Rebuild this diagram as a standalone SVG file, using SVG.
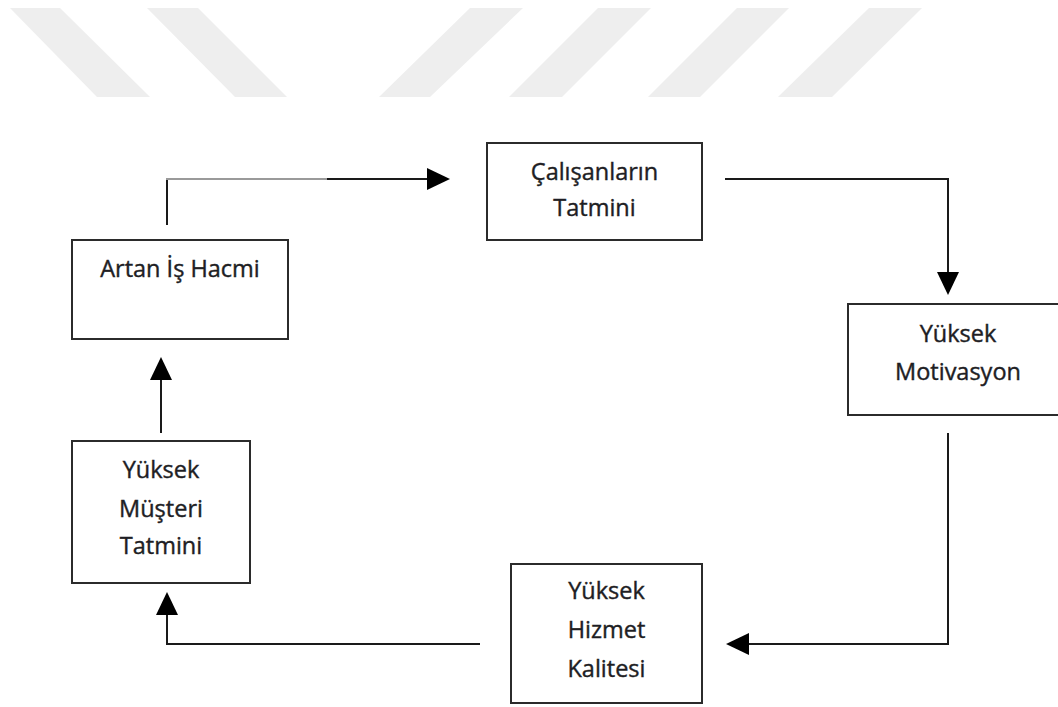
<svg xmlns="http://www.w3.org/2000/svg" width="1058" height="707" viewBox="0 0 1058 707">
  <style>
    .wm { fill: #eeeeee; }
    .box { fill: #ffffff; stroke: #2b2b2b; stroke-width: 2; }
    .lbl { font-family: "Open Sans", "Liberation Sans", sans-serif; font-size: 23.5px; fill: #1e1e24; stroke: #1e1e24; stroke-width: 0.4; text-anchor: middle; }
    .edge { fill: none; stroke: #1a1a1a; stroke-width: 2; }
    .edge-light { fill: none; stroke: #9a9a9a; stroke-width: 2; }
  </style>
  <defs>
    <marker id="arrow" markerUnits="userSpaceOnUse" markerWidth="23" markerHeight="22" refX="0" refY="11" orient="auto">
      <path d="M0,0 L23,11 L0,22 z" fill="#000000"/>
    </marker>
  </defs>
  <rect x="0" y="0" width="1058" height="707" fill="#ffffff"/>
  <g id="watermark">
    <polygon class="wm" points="10,8 60,8 150,97 97,97"/>
    <polygon class="wm" points="147,8 198,8 287,97 235,97"/>
    <polygon class="wm" points="470,8 523,8 430,97 379,97"/>
    <polygon class="wm" points="598,8 651,8 562,97 509,97"/>
    <polygon class="wm" points="737,8 789,8 700,97 648,97"/>
    <polygon class="wm" points="869,8 922,8 832,97 778,97"/>
  </g>
  <g id="connectors">
    <path class="edge" d="M167,225 V179"/>
    <path class="edge-light" d="M166,179 H327"/>
    <path class="edge" d="M327,179 H427" marker-end="url(#arrow)"/>
    <path class="edge" d="M725,179 H948 V272" marker-end="url(#arrow)"/>
    <path class="edge" d="M948,433 V644 H749" marker-end="url(#arrow)"/>
    <path class="edge" d="M480,644 H167 V615" marker-end="url(#arrow)"/>
    <path class="edge" d="M161,433 V380" marker-end="url(#arrow)"/>
  </g>
  <g id="node-artan">
    <rect class="box" x="72" y="240" width="216" height="99"/>
    <text class="lbl" x="180" y="277">Artan İş Hacmi</text>
  </g>
  <g id="node-calisan">
    <rect class="box" x="487" y="143" width="215" height="97"/>
    <text class="lbl" x="594.5" y="180">Çalışanların</text>
    <text class="lbl" x="594.5" y="216">Tatmini</text>
  </g>
  <g id="node-motivasyon">
    <rect class="box" x="848" y="304" width="222" height="111"/>
    <text class="lbl" x="958" y="342">Yüksek</text>
    <text class="lbl" x="958" y="380">Motivasyon</text>
  </g>
  <g id="node-hizmet">
    <rect class="box" x="511" y="564" width="191" height="139"/>
    <text class="lbl" x="606.5" y="599">Yüksek</text>
    <text class="lbl" x="606.5" y="638">Hizmet</text>
    <text class="lbl" x="606.5" y="677">Kalitesi</text>
  </g>
  <g id="node-musteri">
    <rect class="box" x="72" y="441" width="178" height="142"/>
    <text class="lbl" x="161" y="478">Yüksek</text>
    <text class="lbl" x="161" y="517">Müşteri</text>
    <text class="lbl" x="161" y="554">Tatmini</text>
  </g>
</svg>
